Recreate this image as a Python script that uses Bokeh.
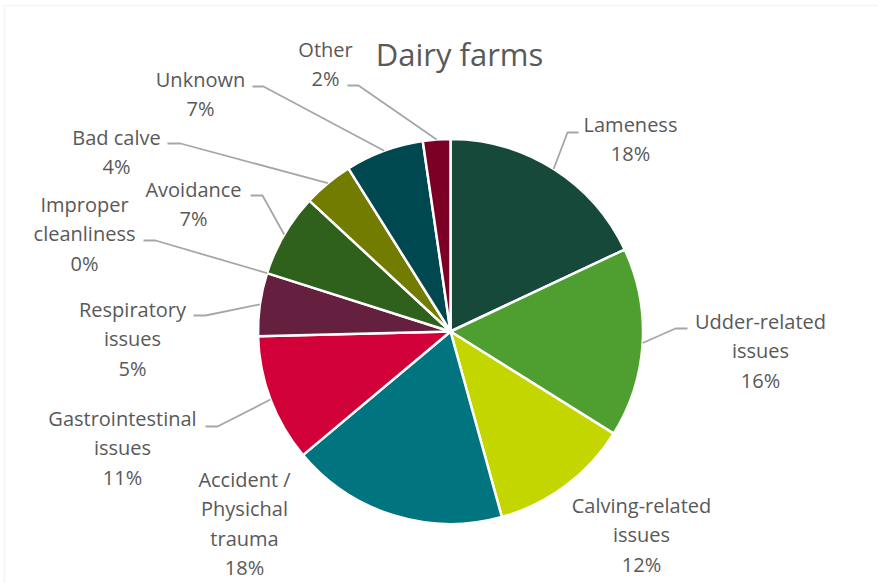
import numpy as np
from bokeh.plotting import figure
from bokeh.models import Range1d, BoxAnnotation
from bokeh.core.properties import value
from bokeh.embed import file_html
from bokeh.resources import INLINE

# ---------------- data ----------------
title = "Dairy farms"
categories = ["Lameness", "Udder-related\nissues", "Calving-related\nissues",
              "Accident /\nPhysichal\ntrauma", "Gastrointestinal\nissues",
              "Respiratory\nissues", "Improper\ncleanliness", "Avoidance",
              "Bad calve", "Unknown", "Other"]
shares = [18.0, 15.9, 11.8, 18.2, 10.7, 5.3, 0.0, 7.0, 4.2, 6.6, 2.3]
colors = ["#17493a", "#4f9e30", "#c4d600", "#00747f", "#d10039",
          "#66203f", "#2f611c", "#2f611c", "#727c00", "#004850", "#7c0026"]

# ---------------- layout (pixel positions, y measured from top) ----------------
W, H = 878, 583
CX, CY, R = 450, 331, 192.5
label_x = [630, 760, 641, 244, 122, 132, 84, 193, 116, 200, 325]
label_base = [132, 329, 513, 487, 426, 317, 212, 197, 145, 87, 57]
line_step = 29.3
LABEL_SHIFT = -8   # compensate renderer baseline offset
TITLE_SHIFT = -12
# leader: (x at label, x at elbow, y) or None
leaders = [(578, 567, 132), (687, 675, 328), None, None, (205, 217, 426),
           (193, 205, 315), (143, 155, 240), (250, 262, 195), (167, 180, 143),
           (252, 263, 86), (347, 358, 85)]
TEXT = "#595959"
FONT = value("Open Sans")


def Y(y):
    return H - y


p = figure(width=W, height=H, output_backend="svg", toolbar_location=None,
           x_range=Range1d(0, W), y_range=Range1d(0, H), min_border=0)
p.axis.visible = False
p.grid.visible = False
p.outline_line_color = None
p.background_fill_color = "white"
p.border_fill_color = "white"

# chart area border (top and left visible)
p.add_layout(BoxAnnotation(left=4, top=Y(5), right=W + 50, bottom=-50,
                           fill_alpha=0, line_color="#d9d9d9", line_width=1.5))

vals = np.array(shares, dtype=float)
total = vals.sum()
cum_end = np.cumsum(vals) / total
cum_start = cum_end - vals / total
start_ang = np.pi / 2 - 2 * np.pi * cum_start
end_ang = np.pi / 2 - 2 * np.pi * cum_end
mid_ang = (start_ang + end_ang) / 2

keep = vals > 0
p.wedge(x=[CX] * int(keep.sum()), y=[Y(CY)] * int(keep.sum()), radius=R,
        start_angle=list(start_ang[keep]), end_angle=list(end_ang[keep]),
        direction="clock", fill_color=list(np.array(colors)[keep]),
        line_color="white", line_width=2.5)

# leader lines
for i, ld in enumerate(leaders):
    if ld is None:
        continue
    x0, x1, ly = ld
    ex = CX + R * np.cos(mid_ang[i])
    ey = Y(CY) + R * np.sin(mid_ang[i])
    p.line([x0, x1, ex], [Y(ly), Y(ly), ey], line_color="#a6a6a6", line_width=1.8)

# labels
for i, cat in enumerate(categories):
    lines = cat.split("\n") + [f"{round(shares[i])}%"]
    for k, t in enumerate(lines):
        p.text(x=[label_x[i]], y=[Y(label_base[i] + k * line_step + LABEL_SHIFT)], text=[t],
               text_align="center", text_baseline="alphabetic",
               text_font=FONT, text_font_size="20px", text_color=TEXT)

# title
p.text(x=[459], y=[Y(65 + TITLE_SHIFT)], text=[title], text_align="center",
       text_baseline="alphabetic", text_font=FONT, text_font_size="31px",
       text_color=TEXT)

open("out.html", "w").write(file_html(p, INLINE))
